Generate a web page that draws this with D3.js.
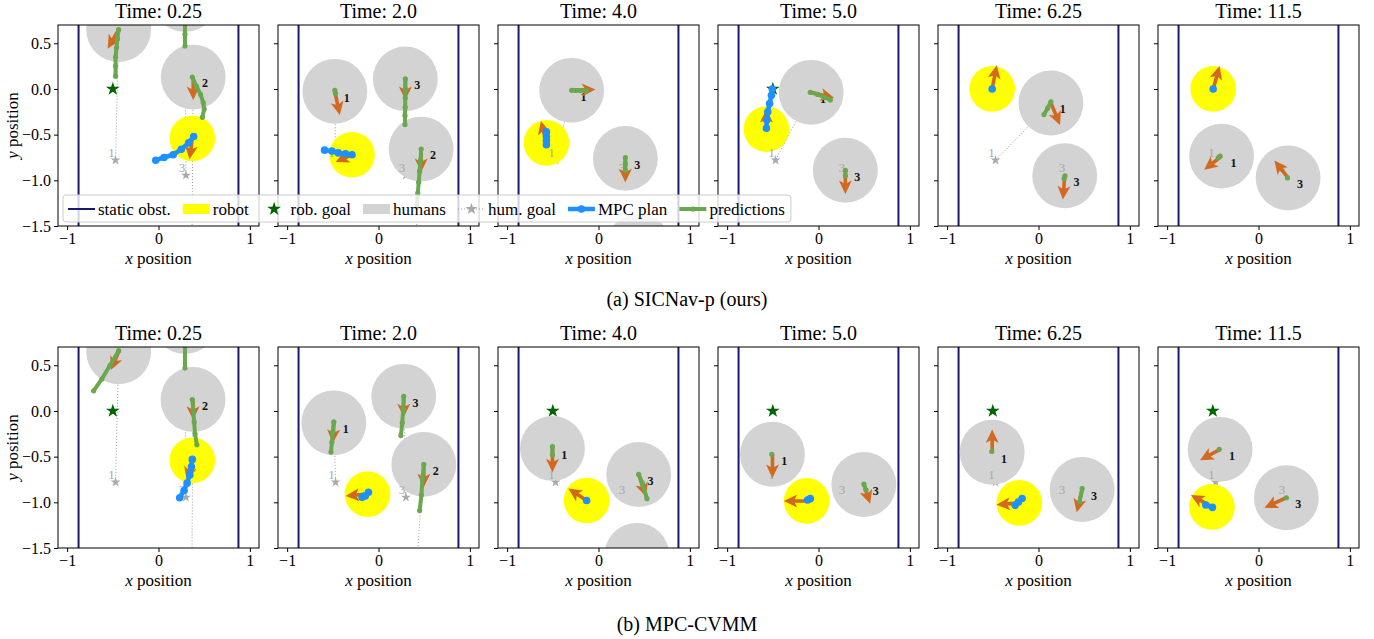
<!DOCTYPE html>
<html>
<head>
<meta charset="utf-8">
<script src="https://cdn.jsdelivr.net/npm/d3@7"></script>
<style>
  body { margin: 0; background: #fff; }
  text { font-family: "Liberation Serif", "DejaVu Serif", serif; }
</style>
</head>
<body>
<div id="chart"></div>
<script>
// ---- data ----
var times = ["0.25", "2.0", "4.0", "5.0", "6.25", "11.5"];
var captions = ["(a) SICNav-p (ours)", "(b) MPC-CVMM"];
var xTicks = [-1, 0, 1];
var yTicks = [0.5, 0.0, -0.5, -1.0, -1.5];
var wallX = [-0.875, 0.875];
var robotGoal = [-0.5, 0.0];
var humanIds = [1, 2, 3];
var humanGoals = [[-0.47, -0.78], [0.36, -2.5], [0.30, -0.945]];
var legendLabels = ["static obst.", "robot", "rob. goal", "humans", "hum. goal", "MPC plan", "predictions"];

// one entry per panel: row (a) left to right, then row (b)
var robotPos = [
  [0.37, -0.54], [-0.29, -0.72], [-0.57, -0.59], [-0.57, -0.44], [-0.507, 0.0], [-0.496, 0.0],
  [0.37, -0.54], [-0.12, -0.91], [-0.13, -0.98], [-0.13, -0.985], [-0.21, -1.007], [-0.51, -1.05]
];
var robotVel = [
  [-0.03, -0.23], [-0.18, -0.08], [-0.06, 0.24], [0.0, 0.22], [0.05, 0.26], [0.07, 0.25],
  [-0.06, -0.22], [-0.24, -0.02], [-0.2, 0.13], [-0.25, 0.0], [-0.25, -0.02], [-0.23, 0.13]
];
var mpcPlan = [
  [[0.385, -0.52], [0.33, -0.59], [0.25, -0.66], [0.16, -0.72], [0.06, -0.75], [-0.03, -0.78]],
  [[-0.29, -0.72], [-0.36, -0.71], [-0.44, -0.70], [-0.51, -0.68], [-0.59, -0.67]],
  [[-0.57, -0.61], [-0.57, -0.565], [-0.57, -0.52], [-0.57, -0.47]],
  [[-0.57, -0.43], [-0.565, -0.34], [-0.555, -0.25], [-0.535, -0.16], [-0.515, -0.07], [-0.505, 0.0]],
  [[-0.507, 0.0]],
  [[-0.496, 0.0]],
  [[0.37, -0.53], [0.36, -0.61], [0.343, -0.70], [0.313, -0.79], [0.28, -0.87], [0.232, -0.95]],
  [[-0.11, -0.89], [-0.145, -0.93], [-0.18, -0.945]],
  [[-0.13, -0.98]],
  [[-0.12, -0.975], [-0.09, -0.96]],
  [[-0.256, -1.033], [-0.22, -0.996], [-0.18, -0.959]],
  [[-0.577, -1.03], [-0.504, -1.055]]
];
// humans 1, 2, 3 per panel (null = off the map)
var humanPos = [
  [[-0.436, 0.65], [0.38, 0.13], [0.29, 0.98]],
  [[-0.478, -0.026], [0.467, -0.658], [0.294, 0.11]],
  [[-0.294, -0.015], [0.44, -1.72], [0.294, -0.76]],
  [[-0.08, -0.037], null, [0.294, -0.89]],
  [[0.136, -0.154], null, [0.287, -0.95]],
  [[-0.404, -0.735], null, [0.324, -0.974]],
  [[-0.436, 0.647], [0.378, 0.125], [0.29, 0.98]],
  [[-0.489, -0.13], [0.496, -0.585], [0.276, 0.16]],
  [[-0.504, -0.41], [0.42, -1.58], [0.44, -0.695]],
  [[-0.504, -0.474], null, [0.496, -0.805]],
  [[-0.507, -0.452], null, [0.478, -0.86]],
  [[-0.42, -0.42], null, [0.305, -0.95]]
];
var humanVel = [
  [[-0.12, -0.21], [0.0, -0.25], [0.0, -0.25]],
  [[0.055, -0.26], [0.0, -0.25], [0.0, -0.23]],
  [[0.26, 0.01], [0.0, -0.25], [0.0, -0.26]],
  [[0.25, -0.06], null, [0.0, -0.26]],
  [[0.10, -0.24], null, [-0.02, -0.26]],
  [[-0.19, -0.15], null, [-0.15, 0.19]],
  [[-0.085, -0.2], [0.0, -0.22], [0.0, -0.25]],
  [[-0.01, -0.22], [0.0, -0.25], [0.0, -0.23]],
  [[0.0, -0.26], [0.0, -0.25], [0.08, -0.24]],
  [[0.0, -0.26], null, [0.07, -0.21]],
  [[0.0, 0.25], null, [-0.06, -0.25]],
  [[-0.22, -0.12], null, [-0.24, -0.11]]
];
var humanPred = [
  [[[-0.436, 0.65], [-0.45, 0.55], [-0.46, 0.45], [-0.47, 0.35], [-0.47, 0.25], [-0.47, 0.14]],
   [[0.37, 0.13], [0.415, 0.03], [0.46, -0.06], [0.49, -0.15], [0.50, -0.22], [0.48, -0.31]],
   [[0.29, 0.98], [0.29, 0.85], [0.29, 0.72], [0.29, 0.60], [0.29, 0.47]]],
  [[[-0.478, -0.015], [-0.47, -0.05]],
   [[0.467, -0.658], [0.46, -0.78], [0.45, -0.9], [0.44, -1.02], [0.43, -1.14], [0.42, -1.27]],
   [[0.294, 0.11], [0.294, 0.0], [0.293, -0.1], [0.292, -0.2], [0.29, -0.29], [0.29, -0.39]]],
  [[[-0.294, -0.015], [-0.25, -0.017], [-0.2, -0.018], [-0.13, -0.02]],
   [[0.44, -1.72], [0.44, -1.85]],
   [[0.294, -0.75], [0.294, -0.82], [0.294, -0.89]]],
  [[[-0.09, -0.037], [-0.01, -0.06], [0.06, -0.09], [0.13, -0.12]],
   null,
   [[0.294, -0.89], [0.294, -0.95]]],
  [[[0.136, -0.14], [0.10, -0.21], [0.06, -0.28]],
   null,
   [[0.29, -0.95], [0.28, -0.98]]],
  [[[-0.42, -0.735], [-0.44, -0.75]],
   null,
   [[0.317, -0.974]]],
  [[[-0.436, 0.66], [-0.53, 0.5], [-0.62, 0.35], [-0.71, 0.22]],
   [[0.37, 0.125], [0.38, 0.0], [0.39, -0.12], [0.40, -0.25], [0.42, -0.37]],
   [[0.29, 0.98], [0.29, 0.72], [0.29, 0.47]]],
  [[[-0.489, -0.12], [-0.50, -0.23], [-0.51, -0.34], [-0.52, -0.45]],
   [[0.496, -0.585], [0.48, -0.75], [0.47, -0.92], [0.45, -1.09]],
   [[0.276, 0.16], [0.27, 0.02], [0.26, -0.13], [0.245, -0.27]]],
  [[[-0.504, -0.39], [-0.504, -0.48]],
   null,
   [[0.44, -0.695], [0.48, -0.79], [0.53, -0.96]]],
  [[[-0.511, -0.474]],
   null,
   [[0.496, -0.8], [0.52, -0.865]]],
  [[[-0.511, -0.444]],
   null,
   [[0.478, -0.85], [0.45, -0.995]]],
  [[[-0.43, -0.42]],
   null,
   [[0.305, -0.95]]]
];
var labelledHumans = [[2], [1, 2, 3], [1, 3], [1, 3], [1, 3], [1, 3],
                      [2], [1, 2, 3], [1, 3], [1, 3], [1, 3], [1, 3]];

// ---- layout ----
var W = 1374, H = 639;
var panelLeft = [58, 278, 498, 718, 938, 1158];
var panelTop = [25, 347];
var size = 201;
var xDom = [-1.1, 1.1], yDom = [-1.5, 0.7];
var humanR = 0.355, robotR = 0.25;

var cWall = '#191970', cRobot = '#ffff00', cHuman = '#d3d3d3', cArrow = '#d2691e',
    cPlan = '#1e90ff', cPred = '#6aa84f', cRobGoal = '#006400', cHumGoal = '#a9a9a9';

var svg = d3.select('#chart').append('svg')
  .attr('width', W)
  .attr('height', H);

function arrowPath(p0, p1) {
  var dx = p1[0] - p0[0], dy = p1[1] - p0[1];
  var L = Math.sqrt(dx * dx + dy * dy);
  var ux = dx / L, uy = dy / L, nx = -uy, ny = ux;
  var hl = Math.min(11, L), hw = 6.5, sw = 1.8, over = 2.5;
  var bx = p1[0] - ux * hl, by = p1[1] - uy * hl;
  var pts = [
    [p0[0] + nx * sw, p0[1] + ny * sw],
    [bx + nx * sw, by + ny * sw],
    [bx - ux * over + nx * hw, by - uy * over + ny * hw],
    p1,
    [bx - ux * over - nx * hw, by - uy * over - ny * hw],
    [bx - nx * sw, by - ny * sw],
    [p0[0] - nx * sw, p0[1] - ny * sw]
  ];
  return 'M' + pts.map(function (p) { return (+p[0]).toFixed(2) + ',' + (+p[1]).toFixed(2); }).join('L') + 'Z';
}

function inView(p) {
  return p[0] >= xDom[0] && p[0] <= xDom[1] && p[1] >= yDom[0] && p[1] <= yDom[1];
}

var star = d3.symbol().type(d3.symbolStar);

function drawPanel(row, col) {
  var k = row * 6 + col;
  var left = panelLeft[col], ptop = panelTop[row];
  var x = d3.scaleLinear().domain(xDom).range([left, left + size]);
  var y = d3.scaleLinear().domain(yDom).range([ptop + size, ptop]);
  var line = d3.line().x(function (d) { return x(d[0]); }).y(function (d) { return y(d[1]); });

  var clipId = 'clip' + k;
  svg.append('clipPath').attr('id', clipId)
    .append('rect').attr('x', left).attr('y', ptop).attr('width', size).attr('height', size);
  var g = svg.append('g').attr('clip-path', 'url(#' + clipId + ')');

  // static obstacles
  g.selectAll('line.wall').data(wallX).enter().append('line')
    .attr('class', 'wall')
    .attr('x1', function (d) { return x(d); }).attr('x2', function (d) { return x(d); })
    .attr('y1', ptop).attr('y2', ptop + size)
    .attr('stroke', cWall).attr('stroke-width', 2);

  var humans = humanIds.map(function (id, i) {
    return { id: id, p: humanPos[k][i], v: humanVel[k][i], pred: humanPred[k][i], goal: humanGoals[i] };
  }).filter(function (h) { return h.p; });

  // dotted lines to the human goals
  g.selectAll('line.goalLink').data(humans).enter().append('line')
    .attr('x1', function (d) { return x(d.p[0]); }).attr('y1', function (d) { return y(d.p[1]); })
    .attr('x2', function (d) { return x(d.goal[0]); }).attr('y2', function (d) { return y(d.goal[1]); })
    .attr('stroke', '#9a9a9a').attr('stroke-width', 1).attr('stroke-dasharray', '1,2');

  // goals
  var goalsInView = humanGoals.map(function (gp, i) { return { id: humanIds[i], p: gp }; })
    .filter(function (d) { return inView(d.p); });
  g.selectAll('path.hgoal').data(goalsInView).enter().append('path')
    .attr('d', star.size(30)())
    .attr('transform', function (d) { return 'translate(' + x(d.p[0]) + ',' + y(d.p[1]) + ')'; })
    .attr('fill', cHumGoal);
  g.append('path')
    .attr('d', star.size(60)())
    .attr('transform', 'translate(' + x(robotGoal[0]) + ',' + y(robotGoal[1]) + ')')
    .attr('fill', cRobGoal);

  // human discs and robot disc
  g.selectAll('circle.human').data(humans).enter().append('circle')
    .attr('cx', function (d) { return x(d.p[0]); })
    .attr('cy', function (d) { return y(d.p[1]); })
    .attr('r', x(humanR) - x(0))
    .attr('fill', cHuman);
  g.append('circle')
    .attr('cx', x(robotPos[k][0])).attr('cy', y(robotPos[k][1]))
    .attr('r', x(robotR) - x(0))
    .attr('fill', cRobot);

  // goal ids
  g.selectAll('text.goalId').data(goalsInView).enter().append('text')
    .attr('x', function (d) { return x(d.p[0]) - 4; })
    .attr('y', function (d) { return y(d.p[1]) - 3; })
    .attr('text-anchor', 'middle')
    .attr('font-size', 13)
    .attr('fill', '#a8a8a8')
    .text(function (d) { return d.id; });

  // human ids
  g.selectAll('text.hid').data(humans.filter(function (h) { return labelledHumans[k].indexOf(h.id) >= 0; }))
    .enter().append('text')
    .attr('x', function (d) { return x(d.p[0] + 0.13); })
    .attr('y', function (d) { return y(d.p[1] - 0.07) + 4; })
    .attr('text-anchor', 'middle')
    .attr('font-size', 12).attr('font-weight', 'bold')
    .attr('fill', '#111')
    .text(function (d) { return d.id; });

  // velocity arrows
  g.selectAll('path.harrow').data(humans.filter(function (h) { return h.v; })).enter().append('path')
    .attr('d', function (d) {
      return arrowPath([x(d.p[0]), y(d.p[1])], [x(d.p[0] + d.v[0]), y(d.p[1] + d.v[1])]);
    })
    .attr('fill', cArrow);
  g.append('path')
    .attr('d', arrowPath([x(robotPos[k][0]), y(robotPos[k][1])],
                         [x(robotPos[k][0] + robotVel[k][0]), y(robotPos[k][1] + robotVel[k][1])]))
    .attr('fill', cArrow);

  // predictions
  humans.filter(function (h) { return h.pred; }).forEach(function (h) {
    g.append('path').datum(h.pred)
      .attr('d', line)
      .attr('fill', 'none').attr('stroke', cPred)
      .attr('stroke-width', 4).attr('stroke-linecap', 'round').attr('stroke-linejoin', 'round');
    g.selectAll(null).data(h.pred).enter().append('circle')
      .attr('cx', function (d) { return x(d[0]); })
      .attr('cy', function (d) { return y(d[1]); })
      .attr('r', 2.6)
      .attr('fill', cPred);
  });

  // MPC plan
  g.append('path').datum(mpcPlan[k])
    .attr('d', line)
    .attr('fill', 'none').attr('stroke', cPlan)
    .attr('stroke-width', 4.5).attr('stroke-linejoin', 'round');
  g.selectAll('circle.plan').data(mpcPlan[k]).enter().append('circle')
    .attr('cx', function (d) { return x(d[0]); })
    .attr('cy', function (d) { return y(d[1]); })
    .attr('r', 3.8)
    .attr('fill', cPlan);

  // frame and axes
  svg.append('rect')
    .attr('x', left).attr('y', ptop).attr('width', size).attr('height', size)
    .attr('fill', 'none').attr('stroke', '#000').attr('stroke-width', 1);

  var xAxis = svg.append('g')
    .attr('transform', 'translate(0,' + (ptop + size) + ')')
    .call(d3.axisBottom(x).tickValues(xTicks).tickSize(4).tickPadding(3).tickFormat(d3.format('d')));
  var yAxis = svg.append('g')
    .attr('transform', 'translate(' + left + ',0)')
    .call(d3.axisLeft(y).tickValues(yTicks).tickSize(4).tickPadding(3)
      .tickFormat(col === 0 ? d3.format('.1f') : ''));
  [xAxis, yAxis].forEach(function (a) {
    a.select('.domain').remove();
    a.selectAll('.tick line').attr('stroke', '#000');
    a.selectAll('.tick text').attr('font-family', '"Liberation Serif", serif')
      .attr('font-size', 16).attr('fill', '#000');
  });

  svg.append('text')
    .attr('x', left + size / 2).attr('y', ptop - 7)
    .attr('text-anchor', 'middle').attr('font-size', 20)
    .text('Time: ' + times[col]);

  var xl = svg.append('text')
    .attr('x', left + size / 2).attr('y', ptop + size + 38)
    .attr('text-anchor', 'middle').attr('font-size', 17);
  xl.append('tspan').attr('font-style', 'italic').text('x');
  xl.append('tspan').text(' position');

  if (col === 0) {
    var yl = svg.append('text')
      .attr('transform', 'translate(18,' + (ptop + size / 2) + ') rotate(-90)')
      .attr('text-anchor', 'middle').attr('font-size', 17);
    yl.append('tspan').attr('font-style', 'italic').text('y');
    yl.append('tspan').text(' position');
  }
}

for (var row = 0; row < 2; row++) {
  for (var col = 0; col < 6; col++) drawPanel(row, col);
  svg.append('text')
    .attr('x', 687).attr('y', row === 0 ? 306 : 631)
    .attr('text-anchor', 'middle').attr('font-size', 20)
    .text(captions[row]);
}

// ---- legend ----
var lg = svg.append('g');
var lgBox = lg.append('rect')
  .attr('x', 63).attr('y', 195).attr('height', 27).attr('rx', 3)
  .attr('fill', '#fff').attr('fill-opacity', 0.8)
  .attr('stroke', '#cccccc').attr('stroke-width', 1);
var lx = 68, ly = 209, hw = 27;
legendLabels.forEach(function (label, i) {
  var h = lg.append('g');
  if (i === 0) {
    h.append('line').attr('x1', lx).attr('x2', lx + hw).attr('y1', ly).attr('y2', ly)
      .attr('stroke', cWall).attr('stroke-width', 2);
  } else if (i === 1 || i === 3) {
    h.append('rect').attr('x', lx).attr('y', ly - 5).attr('width', hw).attr('height', 10)
      .attr('fill', i === 1 ? cRobot : cHuman);
  } else if (i === 2) {
    h.append('path').attr('d', star.size(60)())
      .attr('transform', 'translate(' + (lx + hw / 2) + ',' + ly + ')').attr('fill', cRobGoal);
  } else if (i === 4) {
    h.append('line').attr('x1', lx).attr('x2', lx + hw).attr('y1', ly).attr('y2', ly)
      .attr('stroke', '#9a9a9a').attr('stroke-width', 1).attr('stroke-dasharray', '1,2');
    h.append('path').attr('d', star.size(45)())
      .attr('transform', 'translate(' + (lx + hw / 2) + ',' + ly + ')').attr('fill', cHumGoal);
  } else {
    var c = i === 5 ? cPlan : cPred;
    h.append('line').attr('x1', lx).attr('x2', lx + hw).attr('y1', ly).attr('y2', ly)
      .attr('stroke', c).attr('stroke-width', i === 5 ? 4.5 : 4);
    h.append('circle').attr('cx', lx + hw / 2).attr('cy', ly).attr('r', i === 5 ? 3.8 : 2.6).attr('fill', c);
  }
  var t = lg.append('text').attr('x', lx + hw + 3).attr('y', ly + 5.5)
    .attr('font-size', 17).text(label);
  lx = lx + hw + 3 + t.node().getComputedTextLength() + 12;
});
lgBox.attr('width', lx - 12 + 6 - 63);
</script>
</body>
</html>
